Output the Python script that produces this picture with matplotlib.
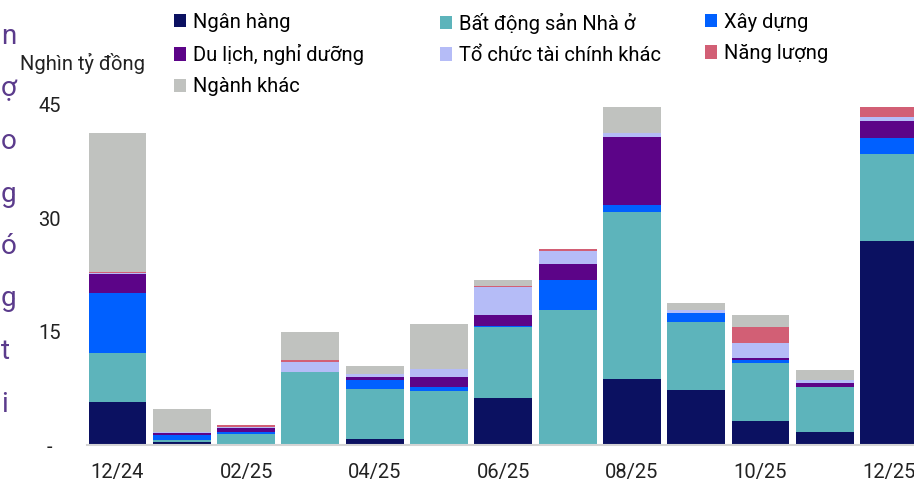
import numpy as np
import matplotlib
matplotlib.use("Agg")
from matplotlib import pyplot as plt

plt.rcParams['font.family'] = ['Roboto', 'DejaVu Sans']

months = ['12/24', '01/25', '02/25', '03/25', '04/25', '05/25', '06/25',
          '07/25', '08/25', '09/25', '10/25', '11/25', '12/25']

# nghin ty dong
ngan_hang   = [5.7, 0.4, 0.0, 0.0, 0.75, 0.0, 6.25, 0.0, 8.8, 7.25, 3.2, 1.75, 26.95]
bds_nha_o   = [6.5, 0.3, 1.5, 9.7, 6.6, 7.2, 9.4, 17.85, 22.1, 9.0, 7.7, 5.9, 11.5]
xay_dung    = [7.9, 0.6, 0.25, 0.0, 1.3, 0.45, 0.1, 4.05, 0.8, 1.2, 0.35, 0.05, 2.2]
du_lich     = [2.55, 0.35, 0.5, 0.0, 0.35, 1.4, 1.4, 2.0, 9.0, 0.0, 0.3, 0.5, 2.25]
to_chuc_tc  = [0.1, 0.1, 0.1, 1.25, 0.35, 1.0, 3.75, 1.75, 0.6, 0.45, 1.9, 0.45, 0.5]
nang_luong  = [0.2, 0.0, 0.35, 0.3, 0.0, 0.0, 0.1, 0.25, 0.0, 0.0, 2.2, 0.0, 1.4]
nganh_khac  = [18.3, 2.95, 0.0, 3.75, 1.1, 5.95, 0.8, 0.1, 3.45, 0.9, 1.55, 1.25, 0.0]

series = [
    ('Ngân hàng', ngan_hang, '#0b1161'),
    ('Bất động sản Nhà ở', bds_nha_o, '#5db4bb'),
    ('Xây dựng', xay_dung, '#0060ff'),
    ('Du lịch, nghỉ dưỡng', du_lich, '#5c0488'),
    ('Tổ chức tài chính khác', to_chuc_tc, '#b5bcf7'),
    ('Năng lượng', nang_luong, '#d25f75'),
    ('Ngành khác', nganh_khac, '#c0c2bf'),
]

W, H = 914, 484
fig = plt.figure(figsize=(W / 100, H / 100), dpi=100)
ax = fig.add_axes([87 / W, 39 / H, (W - 87) / W, 340 / H])

x = np.arange(len(months))
bottom = np.zeros(len(months))
handles = {}
for name, vals, col in series:
    b = ax.bar(x, vals, width=0.9, bottom=bottom, color=col, label=name)
    handles[name] = b
    bottom += np.array(vals)

ax.set_xlim(-0.474, 12.387)
ax.set_ylim(0, 45)
ax.set_yticks([0, 15, 30, 45])
ax.set_yticklabels(['-', '15', '30', '45'], ha='center')
ax.set_xticks(x[::2])
ax.set_xticklabels(months[::2])
ax.tick_params(axis='y', length=0, pad=27, labelsize=14.5, colors='#222222')
ax.tick_params(axis='x', length=0, pad=13, labelsize=14.5, colors='#222222')
for s in ['top', 'right', 'left']:
    ax.spines[s].set_visible(False)
ax.spines['bottom'].set_color('#d4d4d4')
ax.spines['bottom'].set_linewidth(1.5)

fig.text(20 / W, 1 - 70 / H, 'Nghìn tỷ đồng', fontsize=14.5, va='baseline', color='#222222')

# legend, one per column
cols = [
    (174, ['Ngân hàng', 'Du lịch, nghỉ dưỡng', 'Ngành khác']),
    (440, ['Bất động sản Nhà ở', 'Tổ chức tài chính khác']),
    (705, ['Xây dựng', 'Năng lượng']),
]
for xpx, names in cols:
    fig.legend([handles[n] for n in names], names, loc='upper left',
               bbox_to_anchor=(xpx / W, 1 - 13 / H), frameon=False,
               fontsize=14.5, handlelength=0.62, handleheight=0.62,
               handletextpad=0.3, labelspacing=0.6, borderpad=0,
               borderaxespad=0)

# cut-off paragraph text at the left edge
side = ['n', 'ợ', 'o', 'g', 'ó', 'g', 't', 'i']
for i, ch in enumerate(side):
    fig.text(1 / W, 1 - (44 + 52.5 * i) / H, ch, fontsize=20, color='#5b3b8c',
             ha='left', va='baseline')

fig.savefig('out.png', dpi=100)
